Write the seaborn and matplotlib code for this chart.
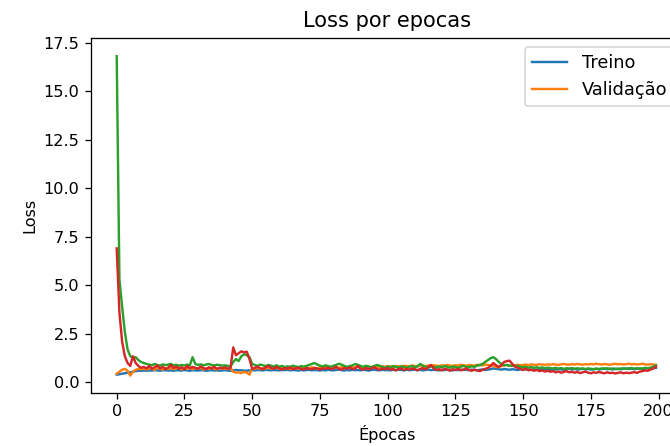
import numpy as np
import pandas as pd
import matplotlib
matplotlib.use("Agg")
import matplotlib.pyplot as plt
import seaborn as sns

epochs = list(range(200))

treino = [
    0.40, 0.42, 0.45, 0.47, 0.50, 0.52, 0.55, 0.58, 0.60, 0.60,
    0.61, 0.60, 0.62, 0.61, 0.63, 0.62, 0.60, 0.62, 0.63, 0.61,
    0.62, 0.60, 0.63, 0.62, 0.61, 0.64, 0.62, 0.60, 0.63, 0.62,
    0.61, 0.63, 0.62, 0.60, 0.62, 0.63, 0.61, 0.62, 0.60, 0.62,
    0.63, 0.61, 0.60, 0.62, 0.64, 0.63, 0.62, 0.61, 0.60, 0.62,
    0.63, 0.62, 0.64, 0.63, 0.62, 0.65, 0.63, 0.62, 0.64, 0.63,
    0.62, 0.64, 0.63, 0.65, 0.62, 0.64, 0.63, 0.61, 0.64, 0.62,
    0.63, 0.65, 0.62, 0.64, 0.63, 0.61, 0.64, 0.62, 0.65, 0.63,
    0.62, 0.64, 0.66, 0.63, 0.61, 0.64, 0.62, 0.65, 0.63, 0.64,
    0.62, 0.65, 0.63, 0.61, 0.64, 0.66, 0.63, 0.62, 0.65, 0.63,
    0.64, 0.62, 0.65, 0.63, 0.66, 0.64, 0.62, 0.65, 0.63, 0.64,
    0.66, 0.63, 0.65, 0.62, 0.64, 0.66, 0.63, 0.65, 0.64, 0.62,
    0.65, 0.63, 0.66, 0.64, 0.62, 0.65, 0.63, 0.66, 0.64, 0.65,
    0.63, 0.66, 0.64, 0.62, 0.65, 0.67, 0.64, 0.66, 0.68, 0.72,
    0.70, 0.68, 0.66, 0.69, 0.67, 0.65, 0.68, 0.66, 0.64, 0.67,
    0.65, 0.68, 0.66, 0.64, 0.67, 0.65, 0.68, 0.66, 0.69, 0.67,
    0.65, 0.68, 0.66, 0.69, 0.67, 0.65, 0.68, 0.70, 0.67, 0.69,
    0.66, 0.68, 0.70, 0.67, 0.69, 0.66, 0.68, 0.70, 0.67, 0.69,
    0.71, 0.68, 0.70, 0.67, 0.69, 0.71, 0.68, 0.70, 0.72, 0.69,
    0.71, 0.68, 0.70, 0.72, 0.69, 0.71, 0.73, 0.70, 0.72, 0.75,
]

validacao = [
    0.45, 0.55, 0.65, 0.70, 0.60, 0.35, 0.55, 0.65, 0.70, 0.68,
    0.72, 0.66, 0.75, 0.70, 0.64, 0.78, 0.70, 0.66, 0.74, 0.69,
    0.76, 0.68, 0.72, 0.80, 0.66, 0.74, 0.70, 0.78, 0.68, 0.75,
    0.70, 0.77, 0.66, 0.73, 0.69, 0.76, 0.71, 0.67, 0.74, 0.70,
    0.72, 0.68, 0.75, 0.55, 0.50, 0.52, 0.48, 0.55, 0.50, 0.40,
    0.72, 0.70, 0.76, 0.68, 0.74, 0.71, 0.78, 0.69, 0.73, 0.75,
    0.70, 0.76, 0.72, 0.74, 0.69, 0.77, 0.73, 0.71, 0.75, 0.72,
    0.76, 0.73, 0.78, 0.74, 0.71, 0.77, 0.75, 0.80, 0.74, 0.78,
    0.76, 0.79, 0.74, 0.80, 0.77, 0.75, 0.81, 0.78, 0.76, 0.82,
    0.79, 0.77, 0.83, 0.80, 0.78, 0.84, 0.81, 0.79, 0.83, 0.80,
    0.84, 0.82, 0.80, 0.85, 0.83, 0.81, 0.86, 0.84, 0.82, 0.87,
    0.85, 0.83, 0.88, 0.86, 0.84, 0.87, 0.85, 0.89, 0.86, 0.84,
    0.88, 0.86, 0.90, 0.87, 0.85, 0.89, 0.87, 0.91, 0.88, 0.86,
    0.90, 0.88, 0.86, 0.91, 0.89, 0.87, 0.92, 0.90, 0.88, 0.85,
    0.80, 0.78, 0.85, 0.88, 0.90, 0.86, 0.84, 0.89, 0.91, 0.88,
    0.90, 0.92, 0.89, 0.93, 0.91, 0.90, 0.94, 0.92, 0.90, 0.93,
    0.91, 0.94, 0.92, 0.90, 0.93, 0.95, 0.92, 0.91, 0.94, 0.92,
    0.95, 0.93, 0.91, 0.94, 0.92, 0.95, 0.93, 0.96, 0.94, 0.92,
    0.95, 0.93, 0.91, 0.94, 0.96, 0.93, 0.95, 0.92, 0.94, 0.96,
    0.93, 0.95, 0.92, 0.94, 0.96, 0.93, 0.91, 0.94, 0.92, 0.90,
]

treino_2 = [
    16.8, 5.3, 3.9, 2.6, 1.7, 1.35, 1.25, 1.30, 1.15, 1.05,
    1.00, 0.95, 0.92, 0.88, 0.95, 0.90, 0.86, 0.93, 0.89, 0.92,
    0.95, 0.88, 0.91, 0.86, 0.90, 0.87, 0.92, 0.88, 1.30, 0.95,
    0.90, 0.93, 0.88, 0.92, 0.95, 0.90, 0.87, 0.91, 0.89, 0.86,
    0.88, 0.85, 0.82, 1.05, 1.20, 1.10, 1.35, 1.45, 1.40, 1.30,
    0.95, 0.90, 0.85, 0.92, 0.88, 0.84, 0.90, 0.86, 0.82, 0.88,
    0.80, 0.85, 0.78, 0.83, 0.80, 0.86, 0.82, 0.79, 0.84, 0.81,
    0.85, 0.90, 0.95, 1.00, 0.92, 0.86, 0.82, 0.88, 0.84, 0.80,
    0.86, 0.90, 0.96, 0.92, 0.85, 0.80, 0.84, 0.88, 0.95, 0.90,
    0.85, 0.80, 0.86, 0.82, 0.78, 0.84, 0.90, 0.86, 0.80, 0.76,
    0.82, 0.78, 0.84, 0.80, 0.76, 0.83, 0.79, 0.75, 0.81, 0.84,
    0.78, 0.82, 0.95, 0.86, 0.80, 0.77, 0.83, 0.79, 0.76, 0.82,
    0.78, 0.84, 0.80, 0.76, 0.82, 0.79, 0.75, 0.81, 0.85, 0.80,
    0.78, 0.83, 0.80, 0.86, 0.90, 0.95, 1.05, 1.15, 1.25, 1.30,
    1.20, 1.05, 0.95, 0.88, 0.90, 0.85, 0.88, 0.82, 0.86, 0.80,
    0.78, 0.80, 0.76, 0.79, 0.75, 0.78, 0.74, 0.77, 0.73, 0.76,
    0.74, 0.72, 0.75, 0.71, 0.74, 0.70, 0.73, 0.71, 0.74, 0.70,
    0.73, 0.70, 0.72, 0.69, 0.72, 0.70, 0.68, 0.71, 0.69, 0.72,
    0.70, 0.73, 0.69, 0.72, 0.70, 0.68, 0.71, 0.73, 0.70, 0.72,
    0.74, 0.71, 0.73, 0.70, 0.72, 0.75, 0.73, 0.76, 0.80, 0.88,
]

validacao_2 = [
    6.9, 3.6, 2.1, 1.35, 1.0, 0.85, 1.35, 1.0, 0.85, 0.75,
    0.80, 0.72, 0.85, 0.70, 0.78, 0.88, 0.72, 0.80, 0.68, 0.76,
    0.90, 0.74, 0.82, 0.70, 0.78, 0.68, 0.85, 0.72, 0.80, 0.75,
    0.70, 0.82, 0.74, 0.68, 0.78, 0.72, 0.80, 0.70, 0.76, 0.72,
    0.78, 0.70, 0.75, 1.80, 1.40, 1.50, 1.60, 1.55, 1.58, 1.20,
    0.70, 0.75, 0.82, 0.72, 0.68, 0.78, 0.85, 0.74, 0.70, 0.80,
    0.72, 0.66, 0.74, 0.70, 0.78, 0.68, 0.72, 0.76, 0.70, 0.66,
    0.74, 0.70, 0.68, 0.75, 0.72, 0.66, 0.73, 0.70, 0.76, 0.68,
    0.72, 0.80, 0.70, 0.66, 0.74, 0.70, 0.78, 0.68, 0.72, 0.85,
    0.70, 0.66, 0.74, 0.68, 0.72, 0.78, 0.70, 0.65, 0.72, 0.68,
    0.74, 0.66, 0.70, 0.62, 0.68, 0.72, 0.64, 0.70, 0.66, 0.72,
    0.68, 0.62, 0.70, 0.74, 0.66, 0.80, 0.90, 0.72, 0.64, 0.68,
    0.62, 0.70, 0.66, 0.60, 0.68, 0.64, 0.70, 0.62, 0.66, 0.72,
    0.64, 0.60, 0.66, 0.62, 0.58, 0.64, 0.70, 0.75, 0.85, 1.00,
    0.88, 0.80, 0.90, 1.05, 1.10, 1.12, 0.95, 0.82, 0.75, 0.70,
    0.64, 0.70, 0.62, 0.66, 0.60, 0.64, 0.58, 0.62, 0.56, 0.60,
    0.55, 0.58, 0.52, 0.56, 0.50, 0.54, 0.58, 0.52, 0.55, 0.50,
    0.54, 0.48, 0.52, 0.56, 0.50, 0.47, 0.52, 0.49, 0.54, 0.50,
    0.47, 0.52, 0.48, 0.50, 0.46, 0.49, 0.52, 0.47, 0.50, 0.48,
    0.50, 0.53, 0.49, 0.55, 0.58, 0.62, 0.60, 0.66, 0.72, 0.80,
]

legend_labels = ["Treino", "Validação"]
title = "Loss por epocas"
xlabel = "Épocas"
ylabel = "Loss"

DPI = 116
fig = plt.figure(figsize=(670 / DPI, 446 / DPI), dpi=DPI)
ax = fig.add_axes([90.7 / 670, 1 - 392.7 / 446, (683 - 90.7) / 670, (392.7 - 38.3) / 446])

series = [treino, validacao, treino_2, validacao_2]
colors = ["C0", "C1", "C2", "C3"]
for i, (vals, col) in enumerate(zip(series, colors)):
    df = pd.DataFrame({"epoca": epochs, "loss": vals})
    lab = legend_labels[i] if i < 2 else None
    sns.lineplot(data=df, x="epoca", y="loss", ax=ax, color=col, label=lab, linewidth=1.5)

ax.set_xlim(-9.6, 209)
ax.set_ylim(-0.53, 17.72)
ax.set_xticks([0, 25, 50, 75, 100, 125, 150, 175, 200])
ax.set_yticks([0.0, 2.5, 5.0, 7.5, 10.0, 12.5, 15.0, 17.5])
ax.set_title(title, fontsize=13, pad=7)
ax.set_xlabel(xlabel)
ax.set_ylabel(ylabel)
handles, labels = ax.get_legend_handles_labels()
ax.legend(handles[:2], labels[:2], loc="upper right", fontsize=11)

fig.savefig("out.png", dpi=DPI)
